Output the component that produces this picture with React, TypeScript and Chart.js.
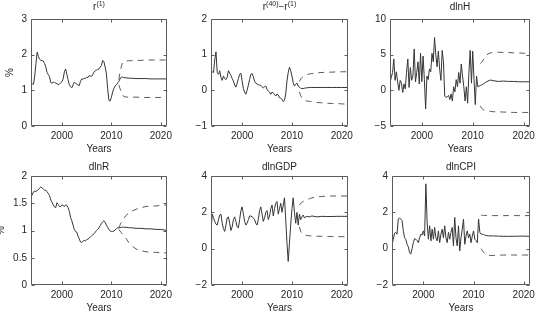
import { useEffect, useRef } from 'react';
import { Chart, registerables } from 'chart.js';

Chart.register(...registerables);

// ---- time axis -------------------------------------------------------------
const FIRST_QUARTER = 1993.75;
const QUARTER = 0.25;
const X_MIN = 1993.75;
const X_MAX = 2021.25;
const YEAR_TICKS = [2000, 2010, 2020];
const FORECAST_YEARS = [2011.5, 2011.75, 2012, 2012.25, 2012.5, 2013, 2013.5, 2014, 2015, 2016, 2017, 2018, 2019, 2020, 2021.25];

// ---- r(1) ------------------------------------------------------------------
const r1History = [
  1.2, 1.18, 1.17, 1.4, 1.75, 2.07, 1.95, 1.87, 1.84, 1.83,
  1.82, 1.75, 1.65, 1.5, 1.44, 1.38, 1.22, 1.2, 1.23, 1.22,
  1.2, 1.19, 1.16, 1.18, 1.21, 1.24, 1.32, 1.52, 1.6, 1.45,
  1.3, 1.16, 1.1, 1.07, 1.15, 1.23, 1.2, 1.18, 1.15, 1.13,
  1.25, 1.32, 1.31, 1.34, 1.33, 1.37, 1.36, 1.41, 1.4, 1.39,
  1.45, 1.51, 1.55, 1.57, 1.58, 1.6, 1.65, 1.7, 1.84, 1.8,
  1.65, 1.46, 1.05, 0.72, 0.7, 0.8, 0.95, 1.05, 1.12, 1.15,
  1.2,
];
const r1Mean = [1.25, 1.32, 1.37, 1.37, 1.36, 1.35, 1.34, 1.34, 1.33, 1.33, 1.33, 1.32, 1.32, 1.32, 1.32];
const r1Upper = [1.3, 1.5, 1.65, 1.78, 1.8, 1.82, 1.83, 1.83, 1.84, 1.84, 1.85, 1.85, 1.85, 1.85, 1.85];
const r1Lower = [1.15, 1.05, 0.95, 0.88, 0.83, 0.81, 0.81, 0.81, 0.81, 0.8, 0.8, 0.8, 0.8, 0.8, 0.8];

// ---- r(40) - r(1) ------------------------------------------------------------
const spreadHistory = [
  0.55, 0.52, 0.5, 0.85, 1.08, 0.5, 0.45, 0.55, 0.36, 0.28,
  0.4, 0.33, 0.3, 0.37, 0.55, 0.48, 0.42, 0.33, 0.26, 0.15,
  0.09, 0.2, 0.33, 0.45, 0.48, 0.26, 0.05, -0.05, -0.11, 0.0,
  0.15, 0.3, 0.45, 0.47, 0.38, 0.25, 0.2, 0.18, 0.15, 0.15,
  0.14, 0.1, 0.07, 0.1, 0.12, 0.03, -0.02, -0.05, -0.11, -0.05,
  -0.07, -0.12, -0.16, -0.1, -0.13, -0.21, -0.22, -0.25, -0.32, -0.28,
  -0.1, 0.26, 0.5, 0.65, 0.55, 0.4, 0.21, 0.12, 0.17, 0.2,
  0.12,
];
const spreadMean = [0.09, 0.06, 0.05, 0.05, 0.06, 0.07, 0.08, 0.08, 0.08, 0.08, 0.08, 0.08, 0.08, 0.08, 0.08];
const spreadUpper = [0.25, 0.32, 0.36, 0.39, 0.41, 0.44, 0.46, 0.47, 0.49, 0.5, 0.51, 0.51, 0.52, 0.52, 0.52];
const spreadLower = [-0.05, -0.15, -0.21, -0.25, -0.27, -0.3, -0.31, -0.32, -0.34, -0.35, -0.36, -0.37, -0.37, -0.38, -0.39];

// ---- dlnH --------------------------------------------------------------------
const dlnHHistory = [
  1.1, 1.8, 2.5, 4.4, 1.4, 2.6, 1.2, 0.0, 1.4, 1.0,
  -0.3, 0.9, 0.2, 2.5, 4.4, 0.4, 3.2, 1.4, 2.0, 5.8,
  1.2, 2.5, 4.0, 0.9, 5.2, 1.2, 4.8, 1.5, -2.6, 2.0,
  1.5, 3.0, 2.6, 5.2, 4.0, 7.4, 5.0, 3.3, 5.5, 3.0,
  1.4, 5.6, 4.0, -0.8, -1.0, -0.9, -0.7, -1.3, -0.5, -1.5,
  0.5, -0.2, 1.5, 0.5, 2.5, 1.0, 3.7, 2.0, 0.5, -1.5,
  0.5, -1.8, 2.5, 5.6, 1.0, 5.5, 1.5, -2.0, 2.0, 0.5,
  0.6,
];
const dlnHMean = [0.7, 0.75, 0.85, 1.0, 1.1, 1.3, 1.45, 1.35, 1.25, 1.3, 1.25, 1.25, 1.2, 1.2, 1.2];
const dlnHUpper = [3.75, 3.9, 4.2, 4.5, 4.8, 5.1, 5.25, 5.3, 5.35, 5.3, 5.3, 5.25, 5.25, 5.2, 5.2];
const dlnHLower = [-2.2, -2.5, -2.7, -2.8, -2.85, -2.9, -2.95, -3.0, -3.0, -3.05, -3.05, -3.1, -3.1, -3.1, -3.1];

// ---- dlnR --------------------------------------------------------------------
const dlnRHistory = [
  1.69, 1.65, 1.71, 1.72, 1.72, 1.73, 1.75, 1.78, 1.8, 1.78,
  1.76, 1.74, 1.74, 1.71, 1.68, 1.64, 1.56, 1.52, 1.47, 1.43,
  1.42, 1.51, 1.48, 1.44, 1.44, 1.47, 1.46, 1.44, 1.47, 1.46,
  1.42, 1.35, 1.24, 1.18, 1.1, 1.02, 0.98, 0.97, 0.9, 0.85,
  0.79, 0.78, 0.8, 0.82, 0.81, 0.83, 0.84, 0.86, 0.88, 0.9,
  0.92, 0.94, 0.97, 1.0, 1.02, 1.05, 1.09, 1.13, 1.16, 1.18,
  1.15, 1.1, 1.06, 1.02, 0.99, 0.98, 0.98, 0.99, 1.01, 1.03,
  1.05,
];
const dlnRMean = [1.05, 1.05, 1.06, 1.06, 1.06, 1.06, 1.05, 1.05, 1.04, 1.04, 1.03, 1.03, 1.02, 1.02, 1.0];
const dlnRUpper = [1.05, 1.1, 1.15, 1.19, 1.22, 1.28, 1.32, 1.35, 1.39, 1.42, 1.44, 1.45, 1.45, 1.46, 1.47];
const dlnRLower = [1.02, 0.99, 0.96, 0.93, 0.9, 0.85, 0.78, 0.73, 0.66, 0.63, 0.61, 0.6, 0.6, 0.59, 0.59];

// ---- dlnGDP ------------------------------------------------------------------
const dlnGDPHistory = [
  1.0, 1.9, 1.7, 1.5, 1.35, 1.3, 1.6, 1.85, 1.9, 1.4,
  1.1, 0.95, 1.3, 1.7, 1.75, 1.4, 1.0, 1.2, 1.6, 1.75,
  1.5, 1.2, 1.15, 1.6, 2.1, 2.3, 1.9, 1.5, 1.3, 1.4,
  1.6, 1.8, 1.8, 1.75, 1.7, 1.6, 1.4, 1.3, 1.6, 2.1,
  2.3, 1.9, 1.5, 1.7, 2.0, 2.1, 1.6, 1.8, 2.2, 2.4,
  1.8, 2.2, 2.5, 2.6, 1.9, 2.2, 2.5, 2.0, 2.4, 2.8,
  1.6, 0.3, -0.7, 0.3, 1.3, 2.2, 2.8, 2.0, 1.4, 2.0,
  1.3,
];
const dlnGDPMean = [1.9, 1.6, 1.75, 1.85, 1.7, 1.78, 1.75, 1.8, 1.75, 1.78, 1.77, 1.77, 1.78, 1.78, 1.78];
const dlnGDPUpper = [2.4, 2.5, 2.55, 2.6, 2.65, 2.7, 2.75, 2.8, 2.84, 2.87, 2.9, 2.9, 2.9, 2.9, 2.9];
const dlnGDPLower = [1.2, 0.95, 0.85, 0.8, 0.77, 0.72, 0.71, 0.7, 0.69, 0.68, 0.67, 0.67, 0.66, 0.66, 0.66];

// ---- dlnCPI ------------------------------------------------------------------
const dlnCPIHistory = [
  0.24, 0.5, 0.85, 0.9, 0.8, 1.63, 1.7, 1.62, 1.55, 1.0,
  0.6, 0.52, 0.24, 0.1, -0.22, -0.3, 0.0, 0.33, 0.55, 0.52,
  0.45, 0.33, 0.6, 0.8, 0.75, 0.98, 0.7, 3.57, 1.44, 0.52,
  1.26, 0.43, 1.07, 0.52, 1.17, 0.6, 0.43, 0.98, 0.33, 0.8,
  1.07, 0.6, 1.26, 0.6, 0.33, 0.9, 0.52, 0.9, 1.17, 0.15,
  1.72, 0.6, 0.15, 1.26, -0.13, 0.6, 1.07, 1.63, 0.24, 0.7,
  0.98, 0.6, 0.8, 0.33, 0.7, 0.98, 0.52, 0.45, 0.33, 1.63,
  0.9,
];
const dlnCPIMean = [0.8, 0.8, 0.78, 0.75, 0.72, 0.71, 0.7, 0.7, 0.69, 0.68, 0.68, 0.68, 0.69, 0.69, 0.68];
const dlnCPIUpper = [1.85, 1.84, 1.83, 1.83, 1.82, 1.82, 1.82, 1.82, 1.82, 1.82, 1.82, 1.82, 1.82, 1.82, 1.82];
const dlnCPILower = [0.0, -0.1, -0.2, -0.28, -0.33, -0.37, -0.38, -0.37, -0.36, -0.35, -0.35, -0.35, -0.35, -0.35, -0.35];

// ---- y axes ------------------------------------------------------------------
const r1Ticks = [0, 1, 2, 3];
const spreadTicks = [-1, 0, 1, 2];
const dlnHTicks = [-5, 0, 5, 10];
const dlnRTicks = [0, 0.5, 1, 1.5, 2];
const dlnGDPTicks = [-2, 0, 2, 4];
const dlnCPITicks = [-2, 0, 2, 4];

type Seg = { text: string; sup?: boolean };

interface PanelData {
  id: string;
  title: Seg[];
  yLabel: string | null;
  history: number[];
  mean: number[];
  upper: number[];
  lower: number[];
  yTicks: number[];
}

const PANELS: PanelData[] = [
  { id: 'r1', title: [{ text: 'r' }, { text: '(1)', sup: true }], yLabel: '%', history: r1History, mean: r1Mean, upper: r1Upper, lower: r1Lower, yTicks: r1Ticks },
  { id: 'spread', title: [{ text: 'r' }, { text: '(40)', sup: true }, { text: '\u2212r' }, { text: '(1)', sup: true }], yLabel: null, history: spreadHistory, mean: spreadMean, upper: spreadUpper, lower: spreadLower, yTicks: spreadTicks },
  { id: 'dlnH', title: [{ text: 'dlnH' }], yLabel: null, history: dlnHHistory, mean: dlnHMean, upper: dlnHUpper, lower: dlnHLower, yTicks: dlnHTicks },
  { id: 'dlnR', title: [{ text: 'dlnR' }], yLabel: '%', history: dlnRHistory, mean: dlnRMean, upper: dlnRUpper, lower: dlnRLower, yTicks: dlnRTicks },
  { id: 'dlnGDP', title: [{ text: 'dlnGDP' }], yLabel: null, history: dlnGDPHistory, mean: dlnGDPMean, upper: dlnGDPUpper, lower: dlnGDPLower, yTicks: dlnGDPTicks },
  { id: 'dlnCPI', title: [{ text: 'dlnCPI' }], yLabel: null, history: dlnCPIHistory, mean: dlnCPIMean, upper: dlnCPIUpper, lower: dlnCPILower, yTicks: dlnCPITicks },
];

// ---- page geometry (pixels) -------------------------------------------------
const PAGE_W = 537;
const PAGE_H = 314;
const COL_LEFT = [0, 178, 357];
const ROWS = [
  { top: 0, bottom: 157, titleGap: 9.5 },
  { top: 157, bottom: 314, titleGap: 6.5 },
];
const PLOTS = [
  { l: 31, r: 167, t: 19, b: 126, yLabelX: 10 },
  { l: 211, r: 348, t: 19, b: 126, yLabelX: 0 },
  { l: 390, r: 530, t: 19, b: 126, yLabelX: 0 },
  { l: 31, r: 167, t: 176, b: 285, yLabelX: 1 },
  { l: 211, r: 348, t: 176, b: 285, yLabelX: 0 },
  { l: 392, r: 530, t: 176, b: 285, yLabelX: 0 },
];
const RIGHT_PAD = 16;
const FONT = "'Liberation Sans', Arial, Helvetica, sans-serif";
const TEXT_COLOR = '#262626';
const AXIS_COLOR = '#5c5c5c';
const LINE_COLOR = '#353535';
const BAND_COLOR = '#5a5a5a';
const TICK_LEN = 3;

const fmtNum = (v: number) => (v < 0 ? '\u2212' + String(Math.abs(v)) : String(v));

function decorPlugin(panel: PanelData, row: { titleGap: number }, yLabelX: number) {
  return {
    id: 'decor',
    afterDraw(chart: any) {
      const { ctx, chartArea: a, scales } = chart;
      const xs = scales.x;
      const ys = scales.y;
      ctx.save();

      // axes box with inward ticks on all four sides
      const L = Math.round(a.left) + 0.5;
      const R = Math.round(a.right) - 0.5;
      const T = Math.round(a.top) + 0.5;
      const B = Math.round(a.bottom) - 0.5;
      ctx.strokeStyle = AXIS_COLOR;
      ctx.lineWidth = 1;
      ctx.setLineDash([]);
      ctx.beginPath();
      ctx.rect(L, T, R - L, B - T);
      for (const t of xs.ticks) {
        const px = Math.round(xs.getPixelForValue(t.value)) + 0.5;
        ctx.moveTo(px, B); ctx.lineTo(px, B - TICK_LEN);
        ctx.moveTo(px, T); ctx.lineTo(px, T + TICK_LEN);
      }
      for (const t of ys.ticks) {
        const py = Math.round(ys.getPixelForValue(t.value)) + 0.5;
        ctx.moveTo(L, py); ctx.lineTo(L + TICK_LEN, py);
        ctx.moveTo(R, py); ctx.lineTo(R - TICK_LEN, py);
      }
      ctx.stroke();

      ctx.fillStyle = TEXT_COLOR;
      const mainFont = `10px ${FONT}`;
      const supFont = `7px ${FONT}`;

      // title with superscripts
      ctx.textAlign = 'left';
      ctx.textBaseline = 'alphabetic';
      let total = 0;
      for (const s of panel.title) {
        ctx.font = s.sup ? supFont : mainFont;
        total += ctx.measureText(s.text).width;
      }
      let cx = (a.left + a.right) / 2 - total / 2;
      const base = a.top - row.titleGap;
      for (const s of panel.title) {
        ctx.font = s.sup ? supFont : mainFont;
        ctx.fillText(s.text, cx, s.sup ? base - 4 : base);
        cx += ctx.measureText(s.text).width;
      }

      // x axis label
      ctx.font = mainFont;
      ctx.textAlign = 'center';
      ctx.fillText('Years', (a.left + a.right) / 2, a.bottom + 25.5);

      // y axis label
      if (panel.yLabel) {
        ctx.translate(yLabelX, (a.top + a.bottom) / 2);
        ctx.rotate(-Math.PI / 2);
        ctx.textBaseline = 'middle';
        ctx.fillText(panel.yLabel, 0, 0);
      }
      ctx.restore();
    },
  };
}

function Panel({ index }: { index: number }) {
  const ref = useRef<HTMLCanvasElement | null>(null);
  const panel = PANELS[index];
  const col = index % 3;
  const rowIdx = Math.floor(index / 3);
  const row = ROWS[rowIdx];
  const plot = PLOTS[index];
  const left = COL_LEFT[col];
  const width = plot.r + RIGHT_PAD - left;
  const height = row.bottom - row.top;

  useEffect(() => {
    if (!ref.current) return;
    const yAxisWidth = plot.l - left;
    const xAxisHeight = row.bottom - plot.b;
    const padTop = plot.t - row.top;

    const mainLine = panel.history
      .map((v, i) => ({ x: FIRST_QUARTER + i * QUARTER, y: v }))
      .concat(FORECAST_YEARS.map((x, j) => ({ x, y: panel.mean[j] })));
    const upperLine = FORECAST_YEARS.map((x, j) => ({ x, y: panel.upper[j] }));
    const lowerLine = FORECAST_YEARS.map((x, j) => ({ x, y: panel.lower[j] }));

    const tickFont = { family: FONT, size: 10 };

    const chart = new Chart(ref.current, {
      type: 'line',
      data: {
        datasets: [
          { data: mainLine, borderColor: LINE_COLOR, borderWidth: 1, pointRadius: 0, tension: 0 },
          { data: upperLine, borderColor: BAND_COLOR, borderWidth: 1, borderDash: [6, 5], pointRadius: 0, tension: 0 },
          { data: lowerLine, borderColor: BAND_COLOR, borderWidth: 1, borderDash: [6, 5], pointRadius: 0, tension: 0 },
        ],
      },
      options: {
        responsive: false,
        maintainAspectRatio: false,
        devicePixelRatio: 1,
        animation: false,
        events: [],
        layout: { autoPadding: false, padding: { left: 0, top: padTop, right: RIGHT_PAD, bottom: 0 } },
        plugins: { legend: { display: false }, tooltip: { enabled: false }, title: { display: false } },
        scales: {
          x: {
            type: 'linear',
            min: X_MIN,
            max: X_MAX,
            afterBuildTicks: (s: any) => { s.ticks = YEAR_TICKS.map((v) => ({ value: v })); },
            afterFit: (s: any) => { s.height = xAxisHeight; },
            grid: { display: false, drawTicks: false },
            border: { display: false },
            ticks: { callback: (v: any) => String(v), padding: 4, font: tickFont, color: TEXT_COLOR, maxRotation: 0, autoSkip: false },
          },
          y: {
            type: 'linear',
            min: panel.yTicks[0],
            max: panel.yTicks[panel.yTicks.length - 1],
            afterBuildTicks: (s: any) => { s.ticks = panel.yTicks.map((v) => ({ value: v })); },
            afterFit: (s: any) => { s.width = yAxisWidth; },
            grid: { display: false, drawTicks: false },
            border: { display: false },
            ticks: { callback: (v: any) => fmtNum(Number(v)), padding: 4, font: tickFont, color: TEXT_COLOR, autoSkip: false },
          },
        },
      } as any,
      plugins: [decorPlugin(panel, row, plot.yLabelX - left)],
    });
    return () => chart.destroy();
  }, [index]);

  return (
    <canvas
      ref={ref}
      width={width}
      height={height}
      style={{ position: 'absolute', left, top: row.top, width, height }}
    />
  );
}

export default function App() {
  return (
    <div
      style={{
        position: 'fixed',
        left: 0,
        top: 0,
        width: PAGE_W,
        height: PAGE_H,
        overflow: 'hidden',
        background: '#ffffff',
      }}
    >
      {PANELS.map((p, i) => (
        <Panel key={p.id} index={i} />
      ))}
    </div>
  );
}
